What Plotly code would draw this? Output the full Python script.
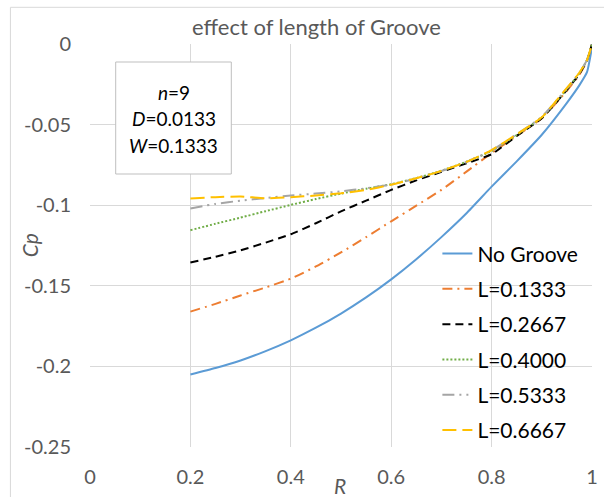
import plotly.graph_objects as go

# Radial position and pressure coefficient for each groove length
R = [0.2, 0.25, 0.3, 0.35, 0.4, 0.45, 0.5, 0.55, 0.6, 0.65, 0.7, 0.75,
     0.8, 0.85, 0.9, 0.95, 0.975, 0.99, 1.0]

cp_no_groove = [-0.2050, -0.2010, -0.1963, -0.1905, -0.1838, -0.1760, -0.1672,
                -0.1572, -0.1460, -0.1335, -0.1198, -0.1050, -0.0885, -0.0728,
                -0.0563, -0.0365, -0.0255, -0.0175, -0.0020]
cp_L01333 = [-0.1660, -0.1612, -0.1560, -0.1510, -0.1456, -0.1380, -0.1293,
             -0.1198, -0.1100, -0.1003, -0.0905, -0.0792, -0.0676, -0.0570,
             -0.0460, -0.0290, -0.0190, -0.0105, 0.0]
cp_L02667 = [-0.1355, -0.1320, -0.1280, -0.1232, -0.1180, -0.1112, -0.1038,
             -0.0972, -0.0905, -0.0846, -0.0793, -0.0740, -0.0684, -0.0570,
             -0.0460, -0.0285, -0.0185, -0.0102, 0.0]
cp_L04000 = [-0.1155, -0.1115, -0.1077, -0.1037, -0.0998, -0.0962, -0.0928,
             -0.0898, -0.0870, -0.0832, -0.0786, -0.0730, -0.0664, -0.0565,
             -0.0455, -0.0280, -0.0180, -0.0100, 0.0]
cp_L05333 = [-0.1020, -0.0992, -0.0972, -0.0955, -0.0940, -0.0928, -0.0914,
             -0.0895, -0.0872, -0.0834, -0.0788, -0.0732, -0.0660, -0.0560,
             -0.0452, -0.0275, -0.0178, -0.0100, 0.0]
cp_L06667 = [-0.0958, -0.0950, -0.0946, -0.0957, -0.0950, -0.0940, -0.0926,
             -0.0905, -0.0873, -0.0833, -0.0787, -0.0731, -0.0658, -0.0560,
             -0.0455, -0.0272, -0.0177, -0.0100, 0.0]

series_names = ["No Groove", "L=0.1333", "L=0.2667", "L=0.4000", "L=0.5333", "L=0.6667"]

x_tick_vals = [0, 0.2, 0.4, 0.6, 0.8, 1.0]
x_tick_text = ["0", "0.2", "0.4", "0.6", "0.8", "1"]
y_tick_vals = [0, -0.05, -0.1, -0.15, -0.2, -0.25]
y_tick_text = ["0", "-0.05", "-0.1", "-0.15", "-0.2", "-0.25"]

title_text = "effect of length of Groove"
info_lines = ["<i>n</i>=9", "<i>D</i>=0.0133", "<i>W</i>=0.1333"]

FONT = "Lato"
GRID = "#D9D9D9"
TEXT_GRAY = "#595959"

styles = [
    dict(color="#5B9BD5", dash="solid"),
    dict(color="#ED7D31", dash="10px,5px,2px,5px"),
    dict(color="#000000", dash="8px,5px"),
    dict(color="#70AD47", dash="2px,2px"),
    dict(color="#A5A5A5", dash="12px,5px,2px,5px,2px,5px"),
    dict(color="#FFC000", dash="14px,6px"),
]

fig = go.Figure()
for i, (name, ys, st) in enumerate(zip(
        series_names,
        [cp_no_groove, cp_L01333, cp_L02667, cp_L04000, cp_L05333, cp_L06667],
        styles)):
    fig.add_trace(go.Scatter(
        x=R, y=ys, mode="lines", name=name, legendgroup=f"g{i}",
        line=dict(color=st["color"], dash=st["dash"], width=2, shape="spline",
                  smoothing=0.5),
    ))

axis_common = dict(
    showgrid=True, gridcolor=GRID, gridwidth=1, zeroline=False,
    showline=False, ticks="", tickfont=dict(family=FONT, size=20, color=TEXT_GRAY),
)

fig.update_layout(
    width=604, height=497, autosize=False,
    margin=dict(l=90, r=6, t=44, b=50),
    paper_bgcolor="white", plot_bgcolor="white",
    font=dict(family=FONT),
    showlegend=True,
    legend=dict(
        x=0.692, y=0.53, xanchor="left", yanchor="top",
        bgcolor="rgba(0,0,0,0)", borderwidth=0,
        font=dict(family=FONT, size=21, color="#000000"),
        tracegroupgap=5, itemwidth=30,
    ),
    xaxis=dict(range=[0, 1], tickvals=x_tick_vals, ticktext=x_tick_text,
               ticklabelstandoff=16, **axis_common),
    yaxis=dict(range=[-0.25, 0], tickvals=y_tick_vals, ticktext=y_tick_text,
               ticklabelstandoff=18, **axis_common),
)

# Outer chart frame
fig.add_shape(type="rect", xref="paper", yref="paper",
              x0=-0.1585, x1=1.2, y0=-0.3, y1=1.091,
              line=dict(color=GRID, width=1), fillcolor="rgba(0,0,0,0)",
              layer="below")

# Parameter box
fig.add_shape(type="rect", xref="paper", yref="paper",
              x0=(116 - 90) / 508, x1=(233 - 90) / 508,
              y0=1 - (174 - 44) / 403, y1=1 - (62 - 44) / 403,
              line=dict(color="#BFBFBF", width=1), fillcolor="white",
              layer="above")
for k, (line, ypx) in enumerate(zip(info_lines, [92.5, 119, 146])):
    fig.add_annotation(text=line, xref="paper", yref="paper",
                       x=(174.5 - 90) / 508, y=1 - (ypx - 44) / 403,
                       xanchor="center", yanchor="middle", showarrow=False,
                       font=dict(family=FONT, size=19, color="#000000"))

# Chart title
fig.add_annotation(text=title_text, xref="paper", yref="paper",
                   x=(319 - 90) / 508, y=1 + (44 - 27) / 403,
                   xanchor="center", yanchor="middle", showarrow=False,
                   font=dict(family=FONT, size=22, color=TEXT_GRAY))

# Axis titles
fig.add_annotation(text="<i>Cp</i>", xref="paper", yref="paper",
                   x=(29 - 90) / 508, y=0.5, textangle=-90,
                   xanchor="center", yanchor="middle", showarrow=False,
                   font=dict(family=FONT, size=21, color=TEXT_GRAY))
fig.add_annotation(text="<i>R</i>", xref="paper", yref="paper",
                   x=(343 - 90) / 508, y=-(486 - 447) / 403,
                   xanchor="center", yanchor="middle", showarrow=False,
                   font=dict(family=FONT, size=21, color=TEXT_GRAY))

fig.write_html("out.html")
